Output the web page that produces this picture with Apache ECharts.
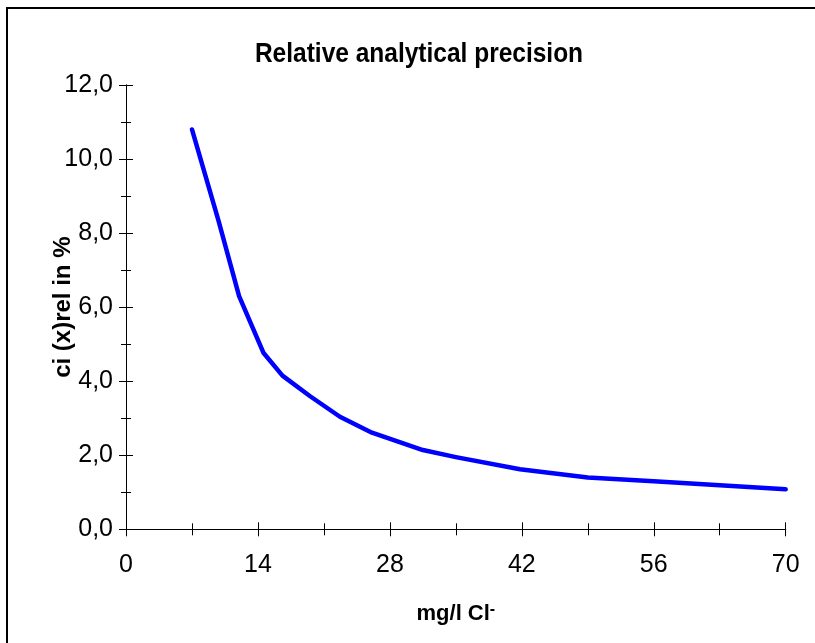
<!DOCTYPE html>
<html>
<head>
<meta charset="utf-8">
<script src="https://cdn.jsdelivr.net/npm/echarts@6/dist/echarts.min.js"></script>
<style>
  html, body { margin: 0; padding: 0; background: #fff; }
  #chart { width: 815px; height: 643px; }
</style>
</head>
<body>
<div id="chart"></div>
<script>
// ---- data ----
var concentration = [7, 9.8, 12, 14.6, 16.6, 19.5, 22.7, 26.1, 31.5, 35, 41.8, 49, 56, 63, 70];
var precisionPct  = [10.8, 8.35, 6.3, 4.76, 4.15, 3.6, 3.04, 2.61, 2.14, 1.95, 1.62, 1.40, 1.30, 1.19, 1.08];
var xTicks = [0, 14, 28, 42, 56, 70];
var yTicks = [0, 2, 4, 6, 8, 10, 12];

var chartTitle = 'Relative analytical precision';
var xName = 'mg/l Cl';
var yName = 'ci (x)rel in %';

var points = concentration.map(function (x, i) { return [x, precisionPct[i]]; });

var labelFont = 'Liberation Sans Narrow, Liberation Sans, Arial, sans-serif';
var boldFont = 'Liberation Sans, Arial, sans-serif';

var chart = echarts.init(document.getElementById('chart'));

var gridBox = { left: 126, top: 85, right: 29.3, bottom: 113.7 };

function yFmt(v) { return v.toFixed(1).replace('.', ','); }

chart.setOption({
  animation: false,
  backgroundColor: '#fff',
  graphic: [
    {
      type: 'rect',
      shape: { x: 7, y: 8, width: 840, height: 680 },
      style: { fill: 'none', stroke: '#000', lineWidth: 2 },
      silent: true
    },
    {
      type: 'text',
      x: 419, y: 54,
      scaleX: 0.875,
      style: {
        text: chartTitle,
        x: 0, y: 0,
        align: 'center', verticalAlign: 'middle',
        font: 'bold 28px ' + boldFont,
        fill: '#000'
      }
    }
  ],
  grid: [
    Object.assign({ containLabel: false }, gridBox),
    Object.assign({ containLabel: false }, gridBox)
  ],
  xAxis: [
    {
      type: 'value', gridIndex: 0, min: xTicks[0], max: xTicks[xTicks.length - 1], interval: 14,
      name: xName + '{sup|-}',
      nameLocation: 'middle', nameGap: 72,
      nameMoveOverlap: false,
      nameTextStyle: {
        fontFamily: boldFont, fontWeight: 'bold', fontSize: 22, color: '#000',
        rich: { sup: { fontFamily: boldFont, fontWeight: 'bold', fontSize: 16, verticalAlign: 'top', padding: [0, 0, 10, 0] } }
      },
      axisLine: { show: true, lineStyle: { color: '#000', width: 1 } },
      axisTick: { show: true, inside: false, length: 7, lineStyle: { color: '#000' } },
      minorTick: { show: true, splitNumber: 2, length: 6, lineStyle: { color: '#000' } },
      splitLine: { show: false },
      axisLabel: { margin: 23, fontFamily: labelFont, fontSize: 25, color: '#000' }
    },
    {
      type: 'value', gridIndex: 1, min: xTicks[0], max: xTicks[xTicks.length - 1], interval: 14,
      axisLine: { show: true, lineStyle: { color: '#000', width: 1 } },
      axisTick: { show: true, inside: true, length: 7, lineStyle: { color: '#000' } },
      minorTick: { show: true, splitNumber: 2, length: 6, lineStyle: { color: '#000' } },
      splitLine: { show: false },
      axisLabel: { show: false }
    }
  ],
  yAxis: [
    {
      type: 'value', gridIndex: 0, min: yTicks[0], max: yTicks[yTicks.length - 1], interval: 2,
      name: yName,
      nameLocation: 'middle', nameGap: 51,
      nameMoveOverlap: false,
      nameTextStyle: { fontFamily: boldFont, fontWeight: 'bold', fontSize: 24, color: '#000' },
      axisLine: { show: true, lineStyle: { color: '#000', width: 1 } },
      axisTick: { show: true, inside: false, length: 7, lineStyle: { color: '#000' } },
      minorTick: { show: true, splitNumber: 2, length: 5, lineStyle: { color: '#000' } },
      splitLine: { show: false },
      axisLabel: { margin: 13, fontFamily: labelFont, fontSize: 25, color: '#000', formatter: yFmt }
    },
    {
      type: 'value', gridIndex: 1, min: yTicks[0], max: yTicks[yTicks.length - 1], interval: 2,
      axisLine: { show: true, lineStyle: { color: '#000', width: 1 } },
      axisTick: { show: true, inside: true, length: 7, lineStyle: { color: '#000' } },
      minorTick: { show: true, splitNumber: 2, length: 5, lineStyle: { color: '#000' } },
      splitLine: { show: false },
      axisLabel: { show: false }
    }
  ],
  series: [
    {
      type: 'line',
      xAxisIndex: 0, yAxisIndex: 0,
      data: points,
      symbol: 'none',
      smooth: false,
      lineStyle: { color: '#0000ff', width: 4.5, cap: 'round', join: 'round' }
    }
  ]
});
</script>
</body>
</html>
